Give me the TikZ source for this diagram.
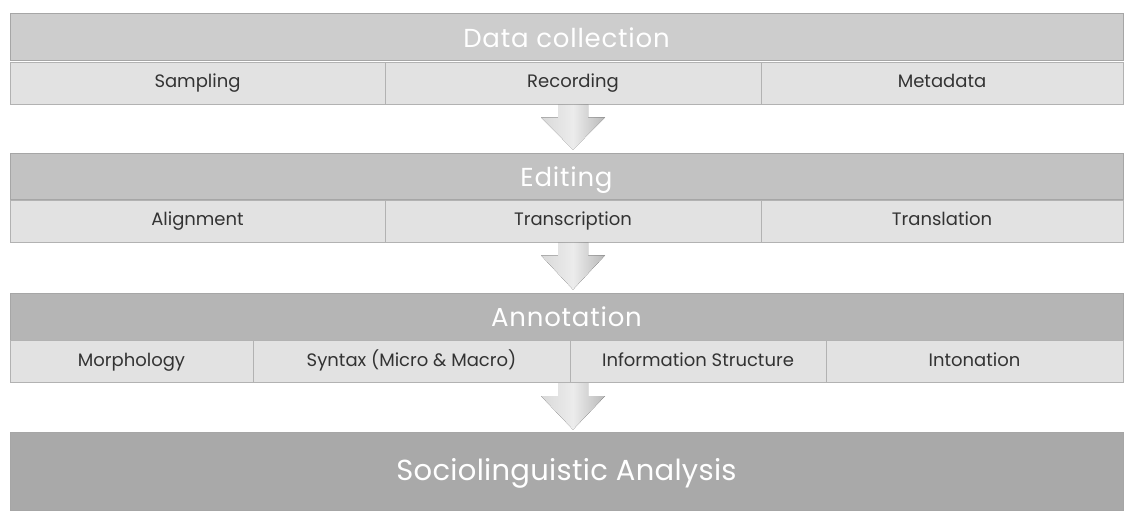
\documentclass[tikz,border=0pt]{standalone}
\usepackage{fontspec}
\setmainfont{Poppins}
\usetikzlibrary{calc}
\definecolor{hdA}{HTML}{CDCDCD}
\definecolor{hdB}{HTML}{C2C2C2}
\definecolor{hdC}{HTML}{B5B5B5}
\definecolor{hdD}{HTML}{A9A9A9}
\definecolor{subfill}{HTML}{E2E2E2}
\definecolor{subtext}{HTML}{333333}
\tikzset{
  x=1pt, y=-1pt,
  header/.style={draw=gray!70, line width=0.8pt, inner sep=0pt, minimum width=1113pt,
     text=white, text height=22pt, text depth=2pt,
     font=\fontsize{26}{26}\selectfont\addfontfeature{LetterSpace=3}},
  subbox/.style={draw=gray!60, line width=0.6pt, fill=subfill, inner sep=0pt, minimum height=42pt,
     text=subtext, text height=13pt, text depth=4pt,
     font=\fontsize{18}{18}\selectfont},
  flowarrow/.style={left color=gray!30, right color=gray!55, middle color=gray!15, draw=none}
}
\newcommand{\downarrowshape}[2]{%
  \fill[flowarrow] ($(#1.south)+(-15,0)$) -- ($(#1.south)+(15,0)$) -- ($(#1.south)+(15,13)$)
    -- ($(#1.south)+(32,13)$) -- ($(#1.south |- #2.north)+(0,-3)$)
    -- ($(#1.south)+(-32,13)$) -- ($(#1.south)+(-15,13)$) -- cycle;}
\begin{document}
\begin{tikzpicture}
\useasboundingbox (0,0) rectangle (1128,515);
% Data collection
\node[header, fill=hdA, minimum height=47pt] (dc) at (566.5,37) {Data collection};
\node[subbox, minimum width=375pt] (samp) at (197.5,83) {Sampling};
\node[subbox, minimum width=376pt] (rec) at (573,83) {Recording};
\node[subbox, minimum width=362pt] (meta) at (942,83) {Metadata};
% Editing
\node[header, fill=hdB, minimum height=46pt] (ed) at (566.5,176) {Editing};
\node[subbox, minimum width=375pt] (align) at (197.5,221) {Alignment};
\node[subbox, minimum width=376pt] (trans) at (573,221) {Transcription};
\node[subbox, minimum width=362pt] (transl) at (942,221) {Translation};
% Annotation
\node[header, fill=hdC, minimum height=47pt] (ann) at (566.5,316.5) {Annotation};
\node[subbox, minimum width=243pt] (morph) at (131.5,361.5) {Morphology};
\node[subbox, minimum width=317pt] (syn) at (411.5,361.5) {Syntax (Micro \& Macro)};
\node[subbox, minimum width=256pt] (info) at (698,361.5) {Information Structure};
\node[subbox, minimum width=297pt] (inton) at (974.5,361.5) {Intonation};
% Sociolinguistic analysis
\node[header, fill=hdD, minimum height=78pt, text height=23pt, text depth=4pt,
      font=\fontsize{29}{29}\selectfont\addfontfeature{LetterSpace=1}] (soc) at (566.5,471) {Sociolinguistic Analysis};
% arrows
\downarrowshape{rec}{ed}
\downarrowshape{trans}{ann}
\coordinate (annmid) at (573,383);
\fill[flowarrow] ($(annmid)+(-15,0)$) -- ($(annmid)+(15,0)$) -- ($(annmid)+(15,13)$)
    -- ($(annmid)+(32,13)$) -- ($(annmid |- soc.north)+(0,-2)$)
    -- ($(annmid)+(-32,13)$) -- ($(annmid)+(-15,13)$) -- cycle;
\end{tikzpicture}
\end{document}
